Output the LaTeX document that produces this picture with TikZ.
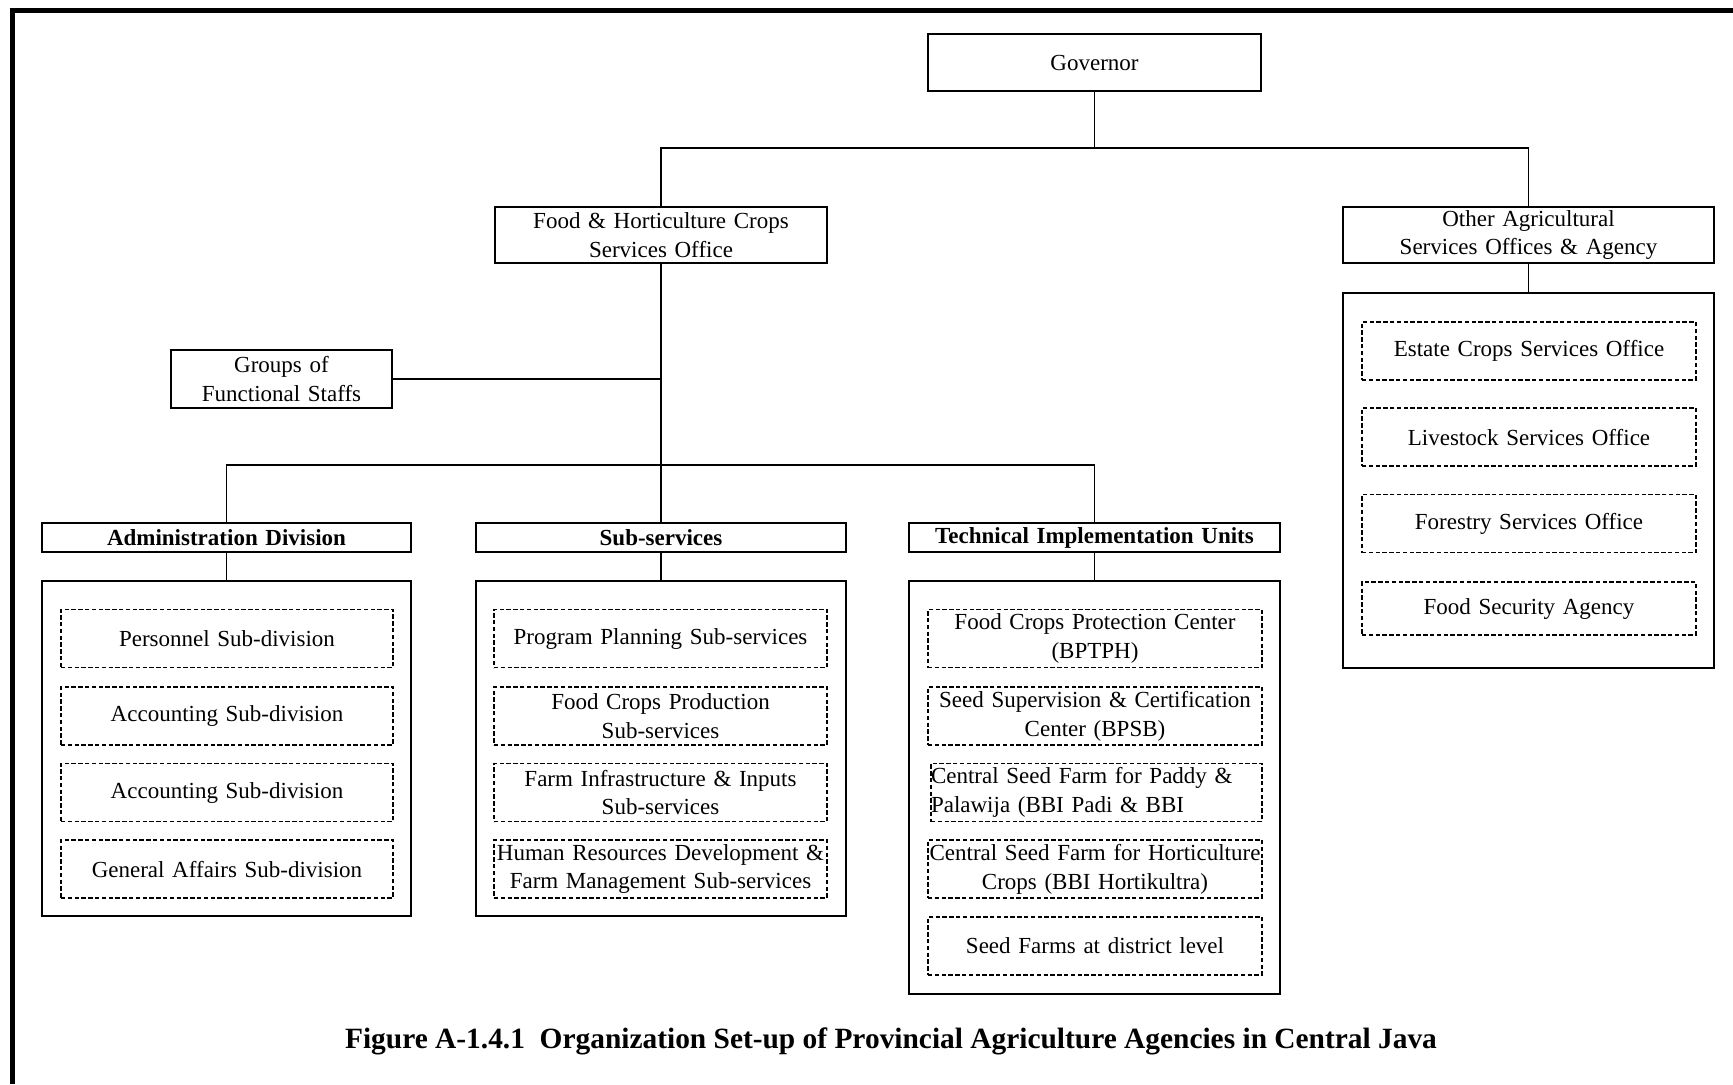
\documentclass[tikz,border=0pt]{standalone}
\usepackage{fontspec}
\setmainfont{Liberation Serif}
\begin{document}
\begin{tikzpicture}[x=0.5pt,y=-0.5pt,
  every node/.style={font=\fontsize{11.5}{14.4}\selectfont},
  solidbox/.style={draw,line width=0.85pt,inner sep=0pt,align=center},
  hdrbox/.style={solidbox,font=\fontsize{11.5}{14.4}\selectfont\bfseries},
  dbox/.style={draw,line width=0.6pt,dash pattern=on 2.2pt off 1.2pt,inner sep=0pt,align=center},
  conn/.style={line width=0.6pt}]
\useasboundingbox (0,0) rectangle (1733,1084);
% frame
\draw[line width=2.2pt] (12.5,1084) -- (12.5,10.3) -- (1733,10.3);

% top level
\node[solidbox,text width=166.5pt,minimum height=28.5pt] (gov) at (1094.5,62.5) {Governor};
\node[solidbox,text width=166pt,minimum height=28pt] (food) at (661,235) {Food \& Horticulture Crops\\Services Office};
\node[solidbox,text width=185.5pt,minimum height=28pt] (other) at (1528.5,235) {Other Agricultural\\Services Offices \& Agency};
\node[solidbox,minimum width=185.5pt,minimum height=187.5pt] (othc) at (1528.5,480.5) {};
\node[dbox,text width=167pt,minimum height=29pt] (e1) at (1529,351) {Estate Crops Services Office};
\node[dbox,text width=167pt,minimum height=29pt] (e2) at (1529,437) {Livestock Services Office};
\node[dbox,text width=167pt,minimum height=29pt] (e3) at (1529,523.5) {Forestry Services Office};
\node[dbox,text width=167pt,minimum height=26.5pt] (e4) at (1529,608.5) {Food Security Agency};

\node[solidbox,text width=110.5pt,minimum height=29pt] (groups) at (281.5,379) {Groups of\\Functional Staffs};

% headers
\node[hdrbox,text width=184.5pt,minimum height=14.5pt] (admh) at (226.5,537.5) {Administration Division};
\node[hdrbox,text width=185pt,minimum height=14.5pt] (subh) at (661,537.5) {Sub-services};
\node[hdrbox,text width=185.5pt,minimum height=14.5pt] (techh) at (1094.5,537.5) {Technical Implementation Units};

% containers
\node[solidbox,minimum width=184.5pt,minimum height=167.5pt] (admc) at (226.5,748.5) {};
\node[solidbox,minimum width=185pt,minimum height=167.5pt] (subc) at (661,748.5) {};
\node[solidbox,minimum width=185.5pt,minimum height=206.5pt] (techc) at (1094.5,787.5) {};

% admin items
\node[dbox,text width=166pt,minimum height=29pt] (a1) at (227,638.5) {Personnel Sub-division};
\node[dbox,text width=166pt,minimum height=29pt] (a2) at (227,716) {Accounting Sub-division};
\node[dbox,text width=166pt,minimum height=29pt] (a3) at (227,792.5) {Accounting Sub-division};
\node[dbox,text width=166pt,minimum height=29pt] (a4) at (227,869) {General Affairs Sub-division};

% sub-services items
\node[dbox,text width=166.5pt,minimum height=29pt] (s1) at (660.5,638.5) {Program Planning Sub-services};
\node[dbox,text width=166.5pt,minimum height=29pt] (s2) at (660.5,716) {Food Crops Production\\Sub-services};
\node[dbox,text width=166.5pt,minimum height=29pt] (s3) at (660.5,792.5) {Farm Infrastructure \& Inputs\\Sub-services};
\node[dbox,text width=166.5pt,minimum height=29pt] (s4) at (660.5,869) {Human Resources Development \&\\Farm Management Sub-services};

% technical items
\node[dbox,text width=167pt,minimum height=29pt] (t1) at (1095,638.5) {Food Crops Protection Center\\(BPTPH)};
\node[dbox,text width=167pt,minimum height=29pt] (t2) at (1095,716) {Seed Supervision \& Certification\\Center (BPSB)};
\node[dbox,text width=165.5pt,minimum height=29pt,align=left] (t3) at (1096.5,792.5) {Central Seed Farm for Paddy \&\\Palawija (BBI Padi \& BBI};
\node[dbox,text width=167pt,minimum height=29pt] (t4) at (1095,869) {Central Seed Farm for Horticulture\\Crops (BBI Hortikultra)};
\node[dbox,text width=167pt,minimum height=29pt] (t5) at (1095,946) {Seed Farms at district level};

% caption
\node[font=\fontsize{14.7}{17}\selectfont\bfseries] (cap) at (891,1041) {Figure A-1.4.1\ \ Organization Set-up of Provincial Agriculture Agencies in Central Java};

% connectors
\coordinate (j1) at (1094.5,148);
\coordinate (j2) at (661,465);
\draw[conn] (gov.south) -- (j1);
\draw[conn] (food.north) |- (j1) -| (other.north);
\draw[conn] (other.south) -- (othc.north);
\draw[conn] (food.south) -- (subh.north);
\draw[conn] (groups.east) -- (groups.east -| food.south);
\draw[conn] (admh.north) |- (j2) -| (techh.north);
\draw[conn] (admh.south) -- (admc.north);
\draw[conn] (subh.south) -- (subc.north);
\draw[conn] (techh.south) -- (techc.north);
\end{tikzpicture}
\end{document}
